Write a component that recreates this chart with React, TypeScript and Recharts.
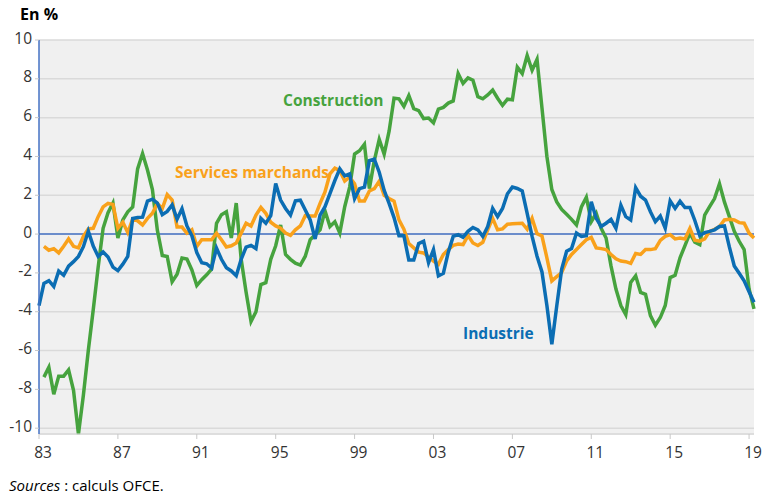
import React from "react"
import { LineChart, Line, XAxis, YAxis, CartesianGrid, ReferenceLine } from "recharts"

// quarterly index, 0 = 1983 T1
const industrie = [
  -3.68, -2.54, -2.4, -2.7, -1.9, -2.12, -1.65, -1.42, -1.15, -0.65, 0.15, -0.62, -1.15, -0.92, -1.18, -1.7,
  -1.88, -1.55, -1.15, 0.8, 0.85, 0.87, 1.7, 1.8, 1.6, 1.0, 1.17, 1.5, 0.77, 1.31, 0.42, -0.08,
  -0.95, -1.48, -1.53, -1.75, -0.72, -1.3, -1.73, -1.9, -2.15, -1.3, -0.67, -0.58, -0.75, 0.81, 0.56, 0.95,
  2.6, 1.75, 1.32, 0.98, 1.71, 1.75, 1.24, 0.73, -0.25, 0.98, 1.41, 2.08, 2.76, 3.36, 3.0, 3.1,
  1.83, 2.34, 2.42, 3.78, 3.86, 3.19, 2.25, 1.58, 0.85, -0.08, -0.08, -1.34, -1.34, -0.49, -0.37, -1.47,
  -0.8, -2.15, -2.02, -0.93, -0.12, -0.03, -0.17, 0.14, 0.34, 0.22, -0.12, 0.39, 1.32, 0.9, 1.32, 2.08,
  2.42, 2.35, 2.22, 1.07, -0.12, -1.14, -1.95, -3.68, -5.68, -3.7, -1.81, -0.88, -0.75, 0.05, -0.12, -0.08,
  1.66, 0.81, 0.39, 0.56, 0.76, 0.3, 1.49, 0.9, 0.73, 2.39, 1.95, 1.75, 1.15, 0.64, 0.93, 0.3,
  1.71, 1.32, 1.69, 1.37, 1.37, 0.7, -0.08, 0.08, 0.14, 0.22, 0.39, 0.42, -0.66, -1.64, -2.02, -2.41,
  -2.97, -3.51,
]

const construction = [
  null, -7.37, -6.86, -8.25, -7.32, -7.32, -7.0, -8.05, -10.3, -8.3, -6.0, -3.9, -1.7, 0.3, 1.1, 1.6,
  -0.2, 0.73, 1.15, 1.4, 3.36, 4.15, 3.3, 2.3, 0.2, -1.1, -1.15, -2.45, -2.07, -1.23, -1.28, -1.85,
  -2.65, -2.35, -2.1, -1.8, 0.55, 1.0, 1.15, -0.2, 1.6, -1.3, -3.0, -4.5, -4.0, -2.6, -2.5, -1.3,
  -0.6, 0.47, -1.05, -1.3, -1.5, -1.6, -1.14, -0.29, -0.03, 0.22, 1.2, 0.39, 0.64, 0.05, 1.41, 2.42,
  4.12, 4.29, 4.63, 2.34, 3.78, 4.88, 4.12, 5.3, 7.0, 6.97, 6.58, 7.14, 6.46, 6.36, 5.95, 5.98,
  5.73, 6.44, 6.53, 6.75, 6.86, 8.27, 7.76, 8.05, 7.93, 7.08, 6.97, 7.17, 7.42, 7.0, 6.63, 6.95,
  6.92, 8.6, 8.27, 9.2, 8.44, 9.0, 6.5, 4.0, 2.3, 1.66, 1.27, 1.02, 0.76, 0.47, 1.4, 1.9,
  0.64, 1.07, 0.3, -0.2, -1.64, -2.83, -3.68, -4.15, -2.49, -2.15, -3.0, -3.1, -4.2, -4.7, -4.3, -3.68,
  -2.24, -2.12, -1.22, -0.59, 0.05, -0.42, -0.54, 0.98, 1.41, 1.83, 2.59, 1.66, 0.9, 0.14, -0.37, -0.8,
  -2.83, -3.85,
]

const services = [
  null, -0.63, -0.83, -0.75, -0.97, -0.63, -0.25, -0.63, -0.71, -0.12, 0.27, 0.3, 0.9, 1.4, 1.58, 1.53,
  0.3, 0.61, 0.08, 0.78, 0.68, 0.47, 0.81, 1.07, 1.58, 1.32, 2.03, 1.75, 0.36, 0.36, 0.05, 0.22,
  -0.63, -0.29, -0.29, -0.29, 0.05, -0.29, -0.66, -0.6, -0.46, 0.05, 0.56, 0.42, 0.98, 1.37, 1.07, 0.61,
  0.42, 0.3, 0.05, -0.07, 0.22, 0.42, 0.95, 0.93, 0.93, 1.58, 2.17, 3.1, 3.4, 3.27, 2.73, 2.93,
  2.59, 1.71, 1.71, 2.22, 2.34, 2.73, 2.0, 1.83, 1.7, 0.73, 0.25, -0.49, -0.71, -0.93, -0.97, -1.17,
  -1.39, -1.56, -1.05, -0.8, -0.58, -0.51, -0.54, -0.08, -0.46, -0.59, -0.42, 0.22, 0.81, 0.22, 0.27, 0.51,
  0.53, 0.55, 0.56, 0.25, 0.81, 0.02, -0.1, -1.22, -2.41, -2.19, -1.98, -1.39, -1.05, -0.8, -0.54, -0.29,
  -0.17, -0.71, -0.75, -0.8, -1.05, -1.27, -1.39, -1.42, -1.51, -1.0, -1.05, -0.8, -0.8, -0.75, -0.32, -0.12,
  -0.03, -0.25, -0.2, -0.25, 0.3, -0.32, -0.37, -0.25, 0.14, 0.25, 0.39, 0.73, 0.76, 0.73, 0.59, 0.56,
  0.05, -0.2,
]

const xTicks = [0, 16, 32, 48, 64, 80, 96, 112, 128, 144]
const yTicks = [-10, -8, -6, -4, -2, 0, 2, 4, 6, 8, 10]

const FONT = "'Open Sans', sans-serif"

export default function App() {
  const data = industrie.map((v, i) => ({
    q: i,
    industrie: v,
    construction: construction[i],
    services: services[i],
  }))

  const yearLabel = (q: number) => String((83 + q / 4) % 100).padStart(2, "0")

  return (
    <div style={{ position: "absolute", left: 0, top: 0, width: 763, height: 496, background: "#fff", fontFamily: FONT }}>
      <div style={{ position: "absolute", left: 20, top: 3, fontSize: 16, fontWeight: 700, color: "#000" }}>En %</div>
      <LineChart width={763} height={496} data={data} margin={{ top: 40, right: 9, bottom: 32, left: 0 }}>
        <CartesianGrid vertical={false} fill="#f0f0f0" stroke="#dadada" strokeWidth={1.5} />
        <XAxis
          dataKey="q"
          type="number"
          domain={[0, 145]}
          ticks={xTicks}
          tickFormatter={yearLabel}
          height={30}
          axisLine={{ stroke: "#dadada" }}
          tickLine={{ stroke: "#c8c8c8" }}
          tickSize={5}
          tickMargin={8}
          tick={{ fontSize: 15.5, fill: "#333", fontFamily: FONT, dx: 4 }}
        />
        <YAxis
          domain={[-10, 10]}
          ticks={yTicks}
          width={39}
          axisLine={{ stroke: "#4472c4", strokeWidth: 1.5 }}
          tickLine={{ stroke: "#c8c8c8" }}
          tickSize={4}
          tickMargin={3}
          tick={{ fontSize: 15.5, fill: "#333", fontFamily: FONT, dy: -2 }}
        />
        <ReferenceLine y={0} stroke="#4472c4" strokeWidth={1.5} />
        <Line type="linear" dataKey="construction" stroke="#46a33e" strokeWidth={3.5} dot={false} isAnimationActive={false} />
        <Line type="linear" dataKey="services" stroke="#f9a11b" strokeWidth={3.5} dot={false} isAnimationActive={false} />
        <Line type="linear" dataKey="industrie" stroke="#0b6db3" strokeWidth={3.5} dot={false} isAnimationActive={false} />
      </LineChart>
      <div style={{ position: "absolute", left: 283, top: 89, fontSize: 15.5, fontWeight: 700, color: "#46a33e" }}>Construction</div>
      <div style={{ position: "absolute", left: 175, top: 161, fontSize: 15.5, fontWeight: 700, color: "#f9a11b" }}>Services marchands</div>
      <div style={{ position: "absolute", left: 463, top: 322, fontSize: 15.5, fontWeight: 700, color: "#0b6db3" }}>Industrie</div>
      <div style={{ position: "absolute", left: 9, top: 475, fontSize: 15, color: "#000" }}>
        <i>Sources</i> : calculs OFCE.
      </div>
    </div>
  )
}
